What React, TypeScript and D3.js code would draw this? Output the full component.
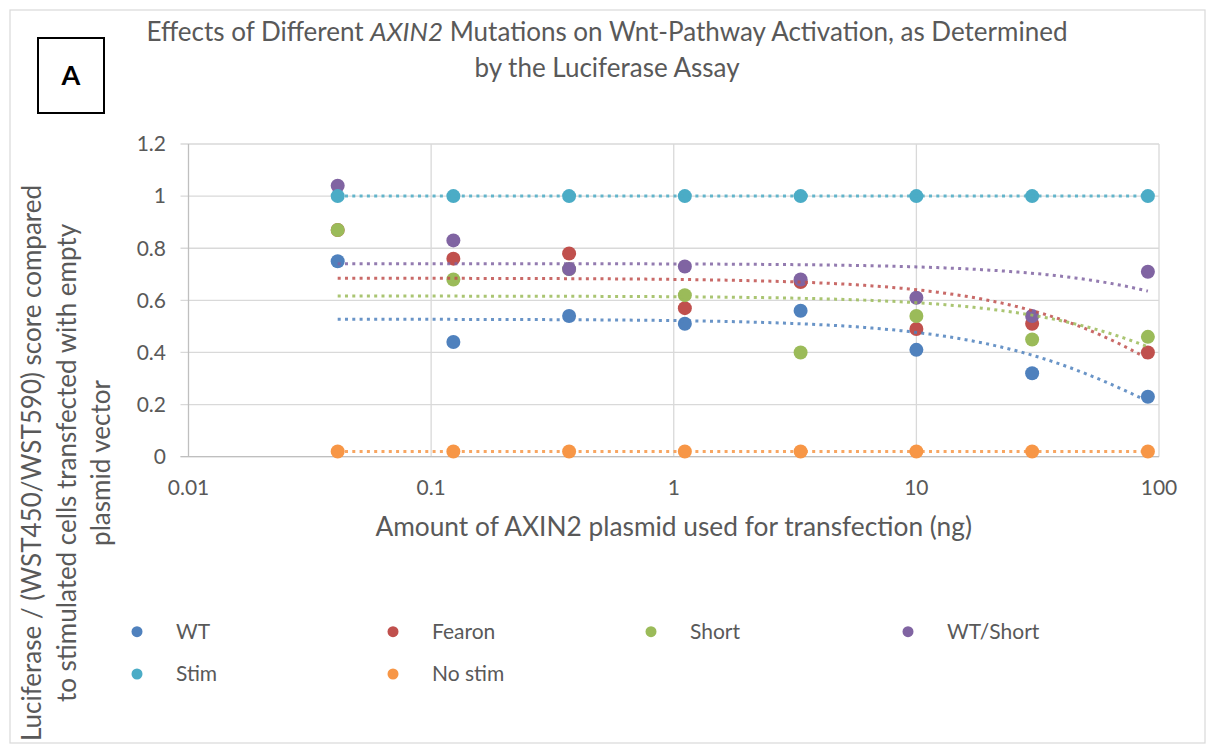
import React from 'react';
import * as d3 from 'd3';

// amount of AXIN2 plasmid (ng), threefold dilutions
const doses = [0.0412, 0.1235, 0.3704, 1.111, 3.333, 10, 30, 90];

const seriesNames = ['WT', 'Fearon', 'Short', 'WT/Short', 'Stim', 'No stim'];
const wtValues = [0.75, 0.44, 0.54, 0.51, 0.56, 0.41, 0.32, 0.23];
const fearonValues = [0.87, 0.76, 0.78, 0.57, 0.67, 0.49, 0.51, 0.4];
const shortValues = [0.87, 0.68, 0.72, 0.62, 0.4, 0.54, 0.45, 0.46];
const wtShortValues = [1.04, 0.83, 0.72, 0.73, 0.68, 0.61, 0.54, 0.71];
const stimValues = [1, 1, 1, 1, 1, 1, 1, 1];
const noStimValues = [0.02, 0.02, 0.02, 0.02, 0.02, 0.02, 0.02, 0.02];

const xTicks = [0.01, 0.1, 1, 10, 100];
const yTicks = [0, 0.2, 0.4, 0.6, 0.8, 1, 1.2];

const colors = ['#4f81bd', '#c0504d', '#9bbb59', '#8064a2', '#4bacc6', '#f79646'];
const allValues = [wtValues, fearonValues, shortValues, wtShortValues, stimValues, noStimValues];

const FONT = "Lato, 'Open Sans', sans-serif";
const GRAY = '#595959';

// excel style exponential trendline: ln(y) = ln(a) + b*x
const expFit = (xs, ys) => {
  const ly = ys.map(v => Math.log(v));
  const mx = d3.mean(xs);
  const my = d3.mean(ly);
  let sxy = 0, sxx = 0;
  xs.forEach((v, i) => {
    sxy += (v - mx) * (ly[i] - my);
    sxx += (v - mx) * (v - mx);
  });
  const b = sxy / sxx;
  const a = Math.exp(my - b * mx);
  return t => a * Math.exp(b * t);
};

const App = () => {
  const x = d3.scaleLog().domain([0.01, 100]).range([188.5, 1159]);
  const y = d3.scaleLinear().domain([0, 1.2]).range([456.7, 144]);
  const [x0, x1] = x.range();
  const [yb, yt] = y.range();

  const line = d3.line().x(d => x(d[0])).y(d => y(d[1])).curve(d3.curveLinear);
  // smooth curve for the fitted trendline, sampled along the log axis
  const lo = Math.log10(doses[0]), hi = Math.log10(doses[doses.length - 1]);
  const samples = d3.range(0, 201).map(i => Math.pow(10, lo + (hi - lo) * i / 200));

  const legendCols = [137, 393, 651, 908];
  const legendRows = [631.7, 674];

  return (
    <svg width={1208} height={744} style={{ position: 'absolute', left: 0, top: 0, background: '#fff' }}>
      <rect x={10} y={10} width={1195} height={733} fill="#fff" stroke="#d9d9d9" strokeWidth={1.2} />

      {/* title */}
      <text x={607} y={41} textAnchor="middle" fontFamily={FONT} fontSize={26} fill={GRAY}>
        Effects of Different <tspan fontStyle="italic">AXIN2</tspan> Mutations on Wnt-Pathway Activation, as Determined
      </text>
      <text x={607} y={77} textAnchor="middle" fontFamily={FONT} fontSize={26} fill={GRAY}>
        by the Luciferase Assay
      </text>

      {/* panel label */}
      <rect x={38} y={38} width={66} height={75} fill="#fff" stroke="#000" strokeWidth={2} />
      <text x={71} y={85} textAnchor="middle" fontFamily={FONT} fontSize={27} fontWeight="bold" fill="#000">A</text>

      {/* gridlines */}
      {yTicks.map(t => (
        <line key={'gy' + t} x1={x0 - 8} x2={x1} y1={y(t)} y2={y(t)} stroke="#d9d9d9" strokeWidth={1.3} />
      ))}
      {xTicks.slice(1).map(t => (
        <line key={'gx' + t} x1={x(t)} x2={x(t)} y1={yt} y2={yb} stroke="#d9d9d9" strokeWidth={1.3} />
      ))}
      <line x1={x0} x2={x0} y1={yt} y2={yb} stroke="#bfbfbf" strokeWidth={1.3} />
      <line x1={x0 - 8} x2={x1} y1={yb} y2={yb} stroke="#bfbfbf" strokeWidth={1.3} />

      {/* tick labels */}
      {yTicks.map(t => (
        <text key={'ly' + t} x={166} y={y(t)} dy="0.35em" textAnchor="end" fontFamily={FONT} fontSize={21} fill={GRAY}>
          {d3.format('~g')(t)}
        </text>
      ))}
      {xTicks.map(t => (
        <text key={'lx' + t} x={x(t)} y={488} dy="0.35em" textAnchor="middle" fontFamily={FONT} fontSize={21} fill={GRAY}>
          {String(t)}
        </text>
      ))}

      {/* axis titles */}
      <text x={673.7} y={536} textAnchor="middle" fontFamily={FONT} fontSize={26.3} fill={GRAY}>
        Amount of AXIN2 plasmid used for transfection (ng)
      </text>
      {[
        'Luciferase / (WST450/WST590) score compared',
        'to stimulated cells transfected with empty',
        'plasmid vector'
      ].map((s, i) => (
        <text key={s} transform={`translate(${[32, 67, 101][i]},463) rotate(-90)`} dy="0.35em" textAnchor="middle"
          fontFamily={FONT} fontSize={26} fill={GRAY}>{s}</text>
      ))}

      {/* markers */}
      {allValues.map((vals, si) => (
        <g key={'m' + si} fill={colors[si]}>
          {vals.map((v, i) => (
            <circle key={i} cx={x(doses[i])} cy={y(v)} r={7} />
          ))}
        </g>
      ))}

      {/* trendlines */}
      {allValues.map((vals, si) => {
        const f = expFit(doses, vals);
        return (
          <path key={'t' + si} d={line(samples.map(t => [t, f(t)]))} fill="none" stroke={colors[si]}
            strokeWidth={3} strokeDasharray="3 4.3" opacity={0.85} />
        );
      })}

      {/* legend */}
      {seriesNames.map((name, i) => {
        const lx = legendCols[i % 4];
        const ly = legendRows[Math.floor(i / 4)];
        return (
          <g key={name}>
            <circle cx={lx} cy={ly} r={5.5} fill={colors[i]} />
            <text x={lx + 39} y={ly} dy="0.35em" fontFamily={FONT} fontSize={21} fill={GRAY}>{name}</text>
          </g>
        );
      })}
    </svg>
  );
};

export default App;
